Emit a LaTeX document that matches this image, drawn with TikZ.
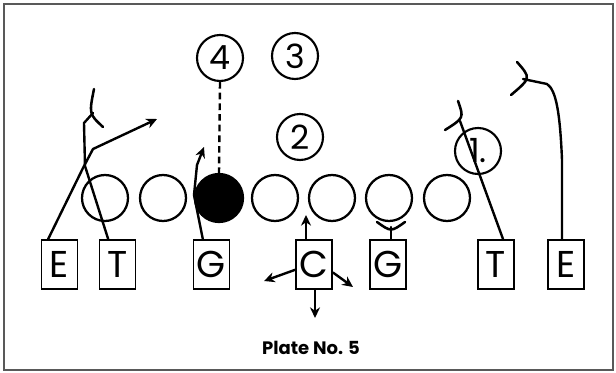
\documentclass[tikz,border=0pt]{standalone}
\usepackage{fontspec}
\setmainfont{Poppins}
\usetikzlibrary{arrows.meta}
\begin{document}
\begin{tikzpicture}[x=0.75pt,y=-0.75pt,
  lineman/.style={circle,draw,line width=1.7pt,minimum size=34.5pt,inner sep=0pt},
  back/.style={circle,draw,line width=1.6pt,minimum size=34.5pt,inner sep=0pt,font=\fontsize{25}{25}\selectfont},
  player/.style={rectangle,draw,line width=1.4pt,minimum width=27pt,minimum height=36.75pt,inner sep=0pt,font=\fontsize{28}{28}\selectfont},
  route/.style={line width=1.8pt,line join=round,line cap=round},
  arr/.style={route,-{Stealth[length=8pt,width=7.5pt]}},
  blockarc/.style={line width=1.9pt,line cap=round}]
\useasboundingbox (0,0) rectangle (616,373);
\draw[line width=1.6pt,color=black!65] (4,4) rectangle (613,370);
% line
\node[lineman] (L1) at (105,198) {};
\node[lineman] (L2) at (163,198) {};
\node[lineman,fill=black,minimum size=36pt] (BC) at (219,198) {};
\node[lineman] (L4) at (275,198) {};
\node[lineman] (L5) at (332,198) {};
\node[lineman] (L6) at (389,198) {};
\node[lineman] (L7) at (447,198) {};
% backs
\node[back] (B4) at (220,58) {4};
\node[back] (B3) at (295,56) {3};
\node[back] (B2) at (300,137) {2};
\node[back] (B1) at (478,151) {1.};
% players
\node[player] (E1) at (59.5,264.5) {E};
\node[player] (T1) at (117.5,264.5) {T};
\node[player] (G1) at (211.5,264.5) {G};
\node[player] (C) at (314,264.5) {C};
\node[player] (G2) at (388,264.5) {G};
\node[player] (T2) at (496,264.5) {T};
\node[player] (E2) at (566,264.5) {E};
% dashed
\draw[line width=1.8pt,dash pattern=on 5pt off 3pt] (B4.south) -- (BC.north);
% left end
\coordinate (e1a) at (83,168);
\coordinate (e1b) at (93,149);
\coordinate (e1t) at (157,119);
\draw[route] ([xshift=-8.5pt]E1.north) -- (e1a) -- (e1b);
\draw[arr] (e1b) -- (e1t);
% left tackle
\coordinate (t1a) at (85,166);
\coordinate (t1b) at (84,123);
\coordinate (t1c) at (93,113);
\draw[route] ([xshift=-7pt]T1.north) -- (t1a) -- (t1b) -- (t1c);
\draw[blockarc] (94,89) .. controls (89,114) .. (103,127);
% left guard
\coordinate (g1a) at (194,195);
\coordinate (g1b) at (197,165);
\coordinate (g1t) at (204,147);
\draw[route] ([xshift=-6.5pt]G1.north) -- (g1a) -- (g1b);
\draw[arr] (g1b) -- (g1t);
% center
\coordinate (cu) at (306,215);
\coordinate (cl) at (264,281);
\coordinate (cr) at (353,287);
\coordinate (cd) at (315,318);
\draw[arr] ([xshift=-6pt]C.north) -- (cu);
\draw[arr] ([yshift=-4pt]C.west) -- (cl);
\draw[arr] ([yshift=-6pt]C.east) -- (cr);
\draw[arr] ([xshift=0.75pt]C.south) -- (cd);
% right guard
\coordinate (g2a) at (391,227);
\draw[route] ([xshift=2.25pt]G2.north) -- (g2a);
\draw[blockarc] (377,222) .. controls (391,232) .. (405,222);
% right tackle
\coordinate (t2a) at (460,121);
\draw[route] ([xshift=5.25pt]T2.north) -- (t2a);
\draw[blockarc] (458,101) .. controls (464,118) .. (445,130);
% right end
\coordinate (e2a) at (562,160);
\coordinate (e2b) at (547,84);
\coordinate (e2c) at (523,79);
\draw[route] ([xshift=-3pt]E2.north) -- (e2a) .. controls (560,112) and (556,90) .. (e2b) -- (e2c);
\draw[blockarc] (517,62) .. controls (531,78) .. (511,95);
% caption
\node[font=\bfseries\fontsize{13.5}{14}\selectfont] (cap) at (311,348) {Plate No. 5};
\end{tikzpicture}
\end{document}
